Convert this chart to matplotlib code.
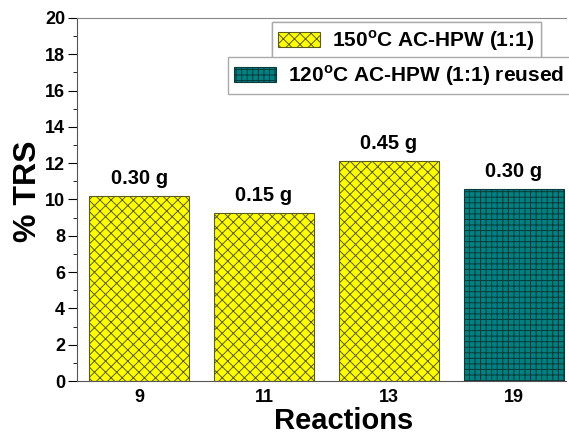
import matplotlib
matplotlib.use('Agg')
import matplotlib.pyplot as plt
from matplotlib.patches import Patch
from matplotlib.ticker import MultipleLocator

plt.rcParams['font.family'] = ['Liberation Sans', 'DejaVu Sans']
plt.rcParams['font.weight'] = 'bold'
plt.rcParams['mathtext.fontset'] = 'custom'
plt.rcParams['mathtext.bf'] = 'Liberation Sans:bold'
plt.rcParams['mathtext.rm'] = 'Liberation Sans:bold'
plt.rcParams['hatch.linewidth'] = 0.7

# data
reactions = ['9', '11', '13', '19']
trs = [10.2, 9.25, 12.1, 10.55]
loadings = ['0.30 g', '0.15 g', '0.45 g', '0.30 g']
reused = [False, False, False, True]

fig = plt.figure(figsize=(5.69, 4.36), dpi=100)
ax = fig.add_axes([0.135, 0.126, 0.86, 0.833])

x = range(len(reactions))
for i in x:
    if reused[i]:
        ax.bar(i, trs[i], width=0.8, color='#008080', edgecolor='#0a3a3a',
               hatch='+++', linewidth=0.8, zorder=2)
    else:
        ax.bar(i, trs[i], width=0.8, color='#ffff00', edgecolor='#5c5c1a',
               hatch='xxx', linewidth=0.8, zorder=2)
    ax.text(i, trs[i] + 0.45, loadings[i], ha='center', va='bottom',
            fontsize=14.5, fontweight='bold')

ax.set_xlim(-0.5, 3.42)
ax.set_ylim(0, 20)
ax.set_xticks(list(x))
ax.set_xticklabels(reactions, fontsize=13, fontweight='bold')
ax.yaxis.set_major_locator(MultipleLocator(2))
ax.yaxis.set_minor_locator(MultipleLocator(1))
ax.tick_params(axis='y', which='major', direction='out', length=6.5, labelsize=13, pad=2)
ax.tick_params(axis='y', which='minor', direction='out', length=3)
ax.tick_params(axis='x', direction='out', length=0, pad=6)
for t in ax.get_yticklabels():
    t.set_fontweight('bold')

ax.spines['right'].set_visible(False)
ax.spines['top'].set_color('#888888')
ax.spines['left'].set_color('#555555')
ax.spines['bottom'].set_color('#555555')

ax.set_ylabel('% TRS', fontsize=23, fontweight='bold')
ax.yaxis.set_label_coords(-0.07, 0.523)
ax.set_xlabel('Reactions', fontsize=21, fontweight='bold', va='baseline')
ax.xaxis.set_label_coords(0.546, -0.131)

h1 = Patch(facecolor='#ffff00', edgecolor='#5c5c1a', hatch='xxx', linewidth=0.8)
h2 = Patch(facecolor='#008080', edgecolor='#0a3a3a', hatch='+++', linewidth=0.8)

leg_kw = dict(loc='upper left', fontsize=15, fancybox=False, edgecolor='#aaaaaa',
              borderpad=0.3, handlelength=2.0, handleheight=0.7,
              handletextpad=0.6, borderaxespad=0, framealpha=1)
leg1 = fig.legend([h1], ['150$^{\\mathbf{o}}$C AC-HPW (1:1)'],
                  bbox_to_anchor=(272 / 569, 1 - 22 / 436), **leg_kw)
leg2 = fig.legend([h2], ['120$^{\\mathbf{o}}$C AC-HPW (1:1) reused'],
                  bbox_to_anchor=(228 / 569, 1 - 57 / 436), **leg_kw)
fig.add_artist(leg1)

fig.savefig('out.png', dpi=100)
